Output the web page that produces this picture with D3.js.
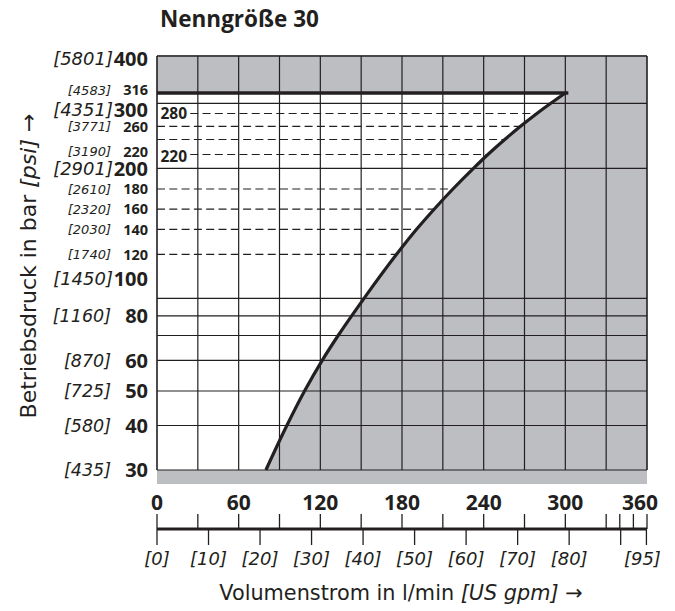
<!DOCTYPE html>
<html><head><meta charset="utf-8">
<script src="https://cdn.jsdelivr.net/npm/d3@7"></script>
<style>
html,body{margin:0;padding:0;background:#fff;}
text{font-family:"Open Sans",sans-serif;fill:#231f20;}
.it{font-family:"DejaVu Sans",sans-serif;font-style:italic;}
.ttl{font-family:"DejaVu Sans",sans-serif;}
</style></head>
<body><svg id="c" width="675" height="611"></svg>
<script>
// ---- data ----
const title = "Nenngröße 30";
const curvePressure = [30, 40, 50, 60, 70, 80, 90, 120, 140, 160, 180, 200, 220, 240, 260, 280, 300, 316];
const curveFlow     = [80, 95.4, 108.4, 121.4, 133.1, 143, 152.1, 176, 190.7, 203.6, 217.4, 232.5, 243.1, 255.5, 267.1, 279.1, 289.3, 300];
const maxPressure = 316;
const barLabels = [400, 316, 300, 260, 220, 200, 180, 160, 140, 120, 100, 80, 60, 50, 40, 30];
const psiLabels = ["[5801]","[4583]","[4351]","[3771]","[3190]","[2901]","[2610]","[2320]","[2030]","[1740]","[1450]","[1160]","[870]","[725]","[580]","[435]"];
const bigLabels = [400, 300, 200, 100];
const smallLabels = [316, 260, 220, 180, 160, 140, 120];
const solidGrid = [30, 40, 50, 60, 70, 80, 90, 200, 300, 400];
const dashedGrid = [280, 260, 240, 220, 180, 160, 140, 120];
const innerLabels = [280, 220];
const flowTicks = [0, 60, 120, 180, 240, 300, 360];
const flowMinorTicks = [0, 30, 60, 90, 120, 150, 180, 210, 240, 270, 300, 330, 340, 350, 360];
const gridFlow = [0, 30, 60, 90, 120, 150, 180, 210, 240, 270, 300, 330, 360];
const gpmTicks = [0, 10, 20, 30, 40, 50, 60, 70, 80, 90, 95];
const gpmLabels = ["[0]","[10]","[20]","[30]","[40]","[50]","[60]","[70]","[80]","","[95]"];
const lPerGal = 3.785;

// ---- layout ----
const svg = d3.select("#c");
const L = 157, R = 647;
// the printed pressure axis is a (slightly irregular) log grid: piecewise log scale
const yAnchorValues = [30, 40, 50, 60, 70, 80, 90, 100, 120, 140, 160, 180, 200, 220, 240, 260, 280, 300, 316, 400];
const yAnchorPixels = [470, 425.5, 391, 360.3, 335.5, 315.8, 298.3, 279, 254.3, 229.3, 209.2, 189, 168.3, 154.5, 139.5, 126.3, 113.5, 103.3, 93, 56];
const x = d3.scaleLinear().domain([0, 360]).range([L, R]);
const y = d3.scaleLog().domain(yAnchorValues).range(yAnchorPixels);
const B = y(30);
const ink = "#231f20", grey = "#bdbec1";
const pts = curvePressure.map((p, i) => ({p, q: curveFlow[i]}));

// title
svg.append("text").attr("x", 160).attr("y", 27).attr("font-size", 22.5).attr("font-weight", 700).text(title);

// grey background (plot + bottom strip)
svg.append("rect").attr("x", L).attr("y", y(400) - 1).attr("width", R - L).attr("height", B + 14 - y(400) + 1).attr("fill", grey);

// white admissible region
const area = d3.area().y(d => y(d.p)).x0(x(0)).x1(d => x(d.q)).curve(d3.curveMonotoneY);
svg.append("clipPath").attr("id", "wclip").append("path").attr("d", area(pts));
svg.append("path").attr("d", area(pts)).attr("fill", "#fff");

// vertical grid
svg.append("g").selectAll("line").data(gridFlow).join("line")
  .attr("x1", d => x(d)).attr("x2", d => x(d)).attr("y1", y(400)).attr("y2", y(30))
  .attr("stroke", ink).attr("stroke-width", d => (d === 0 || d === 360) ? 1.6 : 1.2);
// solid horizontal grid
svg.append("g").selectAll("line").data(solidGrid).join("line")
  .attr("x1", x(0)).attr("x2", x(360)).attr("y1", d => y(d)).attr("y2", d => y(d))
  .attr("stroke", ink).attr("stroke-width", d => d === 400 ? 1.6 : 1.2);

// inner labels (280, 220)
const innerNudge = {280: 0, 220: 1.5};
const inner = svg.append("g").selectAll("text").data(innerLabels).join("text")
  .attr("x", 160.5).attr("y", d => y(d) + innerNudge[d]).attr("dy", "0.36em").attr("font-size", 15.5).attr("font-weight", 700).text(d => d);
const innerEnd = {};
inner.each(function(d){ const b = this.getBBox(); innerEnd[d] = b.x + b.width + 3; });

// dashed grid, clipped to white region
svg.append("g").attr("clip-path", "url(#wclip)").selectAll("line").data(dashedGrid).join("line")
  .attr("x1", d => innerEnd[d] || x(0)).attr("x2", x(360)).attr("y1", d => y(d)).attr("y2", d => y(d))
  .attr("stroke", ink).attr("stroke-width", 1.2).attr("stroke-dasharray", "8,4.3");

// limit curve
svg.append("path").datum(pts).attr("d", d3.line().x(d => x(d.q)).y(d => y(d.p)).curve(d3.curveMonotoneY))
  .attr("fill", "none").attr("stroke", ink).attr("stroke-width", 3.2);
// max pressure line
svg.append("line").attr("x1", x(0)).attr("x2", x(curveFlow[curveFlow.length - 1]) + 3)
  .attr("y1", y(maxPressure)).attr("y2", y(maxPressure)).attr("stroke", ink).attr("stroke-width", 3.6);

// y labels
const nudge = {316: -3, 300: 6, 220: -3, 400: 3};
const yl = svg.append("g");
barLabels.forEach((v, i) => {
  const big = bigLabels.includes(v), small = smallLabels.includes(v);
  const yy = y(v) + (nudge[v] || 0);
  yl.append("text").attr("x", 148).attr("y", yy).attr("dy", "0.36em").attr("text-anchor", "end")
    .attr("font-weight", 700).attr("font-size", big ? 20 : small ? 14.5 : 20).text(v);
  yl.append("text").attr("class", "it").attr("x", big ? 113 : 111).attr("y", yy).attr("dy", "0.36em").attr("text-anchor", "end")
    .attr("font-size", big ? 18 : small ? 13 : 17.5).text(psiLabels[i]);
});

// x axis (l/min above, gpm below)
const axY = 529;
svg.append("line").attr("x1", x(0)).attr("x2", x(360)).attr("y1", axY).attr("y2", axY).attr("stroke", ink).attr("stroke-width", 3.2);
svg.append("g").selectAll("line").data(flowMinorTicks).join("line")
  .attr("x1", d => x(d)).attr("x2", d => x(d)).attr("y1", axY - 15).attr("y2", axY).attr("stroke", ink).attr("stroke-width", 1.3);
svg.append("g").selectAll("line").data(gpmTicks).join("line")
  .attr("x1", d => x(d * lPerGal)).attr("x2", d => x(d * lPerGal)).attr("y1", axY).attr("y2", axY + 16).attr("stroke", ink).attr("stroke-width", 1.3);
svg.append("g").selectAll("text").data(flowTicks).join("text")
  .attr("x", d => x(d) - (d === 360 ? 7 : 0)).attr("y", 510).attr("text-anchor", "middle").attr("font-weight", 700).attr("font-size", 21).text(d => d);
svg.append("g").selectAll("text").data(gpmTicks).join("text").attr("class", "it")
  .attr("x", d => x(d * lPerGal) - (d === 95 ? 4 : 0)).attr("y", 565).attr("text-anchor", "middle").attr("font-size", 18)
  .text((d, i) => gpmLabels[i]);

// axis titles
const xt = svg.append("text").attr("class", "ttl").attr("x", 401).attr("y", 600).attr("text-anchor", "middle").attr("font-size", 20.8);
xt.append("tspan").text("Volumenstrom in l/min ");
xt.append("tspan").attr("font-style", "italic").text("[US gpm]");
xt.append("tspan").text(" →");
const yt = svg.append("text").attr("class", "ttl").attr("transform", "translate(36,266) rotate(-90)").attr("text-anchor", "middle").attr("font-size", 22);
yt.append("tspan").text("Betriebsdruck in bar ");
yt.append("tspan").attr("font-style", "italic").text("[psi]");
yt.append("tspan").text(" →");
</script></body></html>
